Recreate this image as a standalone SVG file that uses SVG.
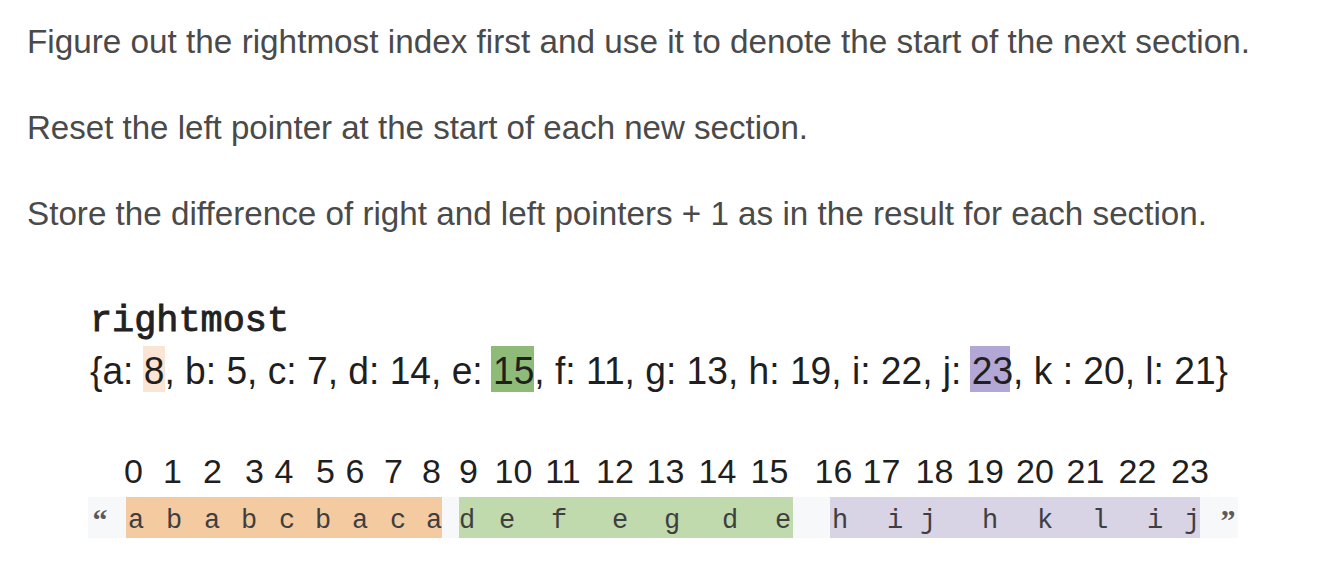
<svg xmlns="http://www.w3.org/2000/svg" width="1318" height="582" viewBox="0 0 1318 582">
  <style>
    .hdr { font-family: "Liberation Sans", Arial, sans-serif; font-size: 33px; fill: #4a4a4a; }
    .mono { font-family: "Liberation Mono", "Courier New", monospace; }
    .dict { font-family: "Liberation Sans", Arial, sans-serif; font-size: 38px; fill: #1f1f1f; }
    .idx { font-family: "Liberation Sans", Arial, sans-serif; font-size: 34px; fill: #1f1f1f; text-anchor: middle; }
    .ch { font-family: "Liberation Mono", "Courier New", monospace; font-size: 27px; fill: #3f3f3f; text-anchor: middle; }
    .q { font-family: "Liberation Serif", "Times New Roman", serif; font-size: 30px; font-weight: bold; fill: #5a5a5a; text-anchor: middle; }
  </style>
  <rect width="1318" height="582" fill="#ffffff"/>

  <g id="instructions">
    <text class="hdr" x="27" y="53" textLength="1223" lengthAdjust="spacingAndGlyphs">Figure out the rightmost index first and use it to denote the start of the next section.</text>
    <text class="hdr" x="27" y="139" textLength="781" lengthAdjust="spacingAndGlyphs">Reset the left pointer at the start of each new section.</text>
    <text class="hdr" x="27" y="225" textLength="1180" lengthAdjust="spacingAndGlyphs">Store the difference of right and left pointers + 1 as in the result for each section.</text>
  </g>

  <g id="rightmost">
    <rect x="143" y="346" width="22" height="46" fill="#fbe4d3"/>
    <rect x="491" y="346" width="43" height="46" fill="#8fbb78"/>
    <rect x="970" y="346" width="40" height="46" fill="#b3a7d5"/>
    <text class="mono" x="90" y="331" font-size="36" fill="#222" stroke="#222" stroke-width="0.9" textLength="199" lengthAdjust="spacingAndGlyphs">rightmost</text>
    <text class="dict" x="90" y="384" textLength="1138" lengthAdjust="spacingAndGlyphs">{a: 8, b: 5, c: 7, d: 14, e: 15, f: 11, g: 13, h: 19, i: 22, j: 23, k : 20, l: 21}</text>
  </g>

  <g id="indices">
    <text class="idx" x="133.5" y="483">0</text>
    <text class="idx" x="172.5" y="483">1</text>
    <text class="idx" x="212.5" y="483">2</text>
    <text class="idx" x="254.5" y="483">3</text>
    <text class="idx" x="284" y="483">4</text>
    <text class="idx" x="325.5" y="483">5</text>
    <text class="idx" x="355" y="483">6</text>
    <text class="idx" x="393.5" y="483">7</text>
    <text class="idx" x="431.5" y="483">8</text>
    <text class="idx" x="468.5" y="483">9</text>
    <text class="idx" x="513.5" y="483">10</text>
    <text class="idx" x="563" y="483">11</text>
    <text class="idx" x="615" y="483">12</text>
    <text class="idx" x="665.5" y="483">13</text>
    <text class="idx" x="717.5" y="483">14</text>
    <text class="idx" x="769.5" y="483">15</text>
    <text class="idx" x="833.5" y="483">16</text>
    <text class="idx" x="881.5" y="483">17</text>
    <text class="idx" x="934.5" y="483">18</text>
    <text class="idx" x="985" y="483">19</text>
    <text class="idx" x="1035" y="483">20</text>
    <text class="idx" x="1085.5" y="483">21</text>
    <text class="idx" x="1137.5" y="483">22</text>
    <text class="idx" x="1190" y="483">23</text>
  </g>

  <g id="string">
    <rect x="88" y="497" width="1150" height="41" fill="#f7f8fa"/>
    <rect x="126" y="497" width="316" height="41" fill="#f4cba1"/>
    <rect x="459" y="497" width="334" height="41" fill="#c0d9ad"/>
    <rect x="830" y="497" width="370" height="41" fill="#d9d3e6"/>
    <text class="q" x="100" y="530">“</text>
    <text class="ch" x="136" y="528">a</text>
    <text class="ch" x="174" y="528">b</text>
    <text class="ch" x="212" y="528">a</text>
    <text class="ch" x="249" y="528">b</text>
    <text class="ch" x="287" y="528">c</text>
    <text class="ch" x="323" y="528">b</text>
    <text class="ch" x="360" y="528">a</text>
    <text class="ch" x="398" y="528">c</text>
    <text class="ch" x="434" y="528">a</text>
    <text class="ch" x="467" y="528">d</text>
    <text class="ch" x="507" y="528">e</text>
    <text class="ch" x="559" y="528">f</text>
    <text class="ch" x="620" y="528">e</text>
    <text class="ch" x="672" y="528">g</text>
    <text class="ch" x="730" y="528">d</text>
    <text class="ch" x="783" y="528">e</text>
    <text class="ch" x="840" y="528">h</text>
    <text class="ch" x="895" y="528">i</text>
    <text class="ch" x="928" y="528">j</text>
    <text class="ch" x="990" y="528">h</text>
    <text class="ch" x="1045" y="528">k</text>
    <text class="ch" x="1100" y="528">l</text>
    <text class="ch" x="1155" y="528">i</text>
    <text class="ch" x="1192" y="528">j</text>
    <text class="q" x="1228" y="530">”</text>
  </g>
</svg>
